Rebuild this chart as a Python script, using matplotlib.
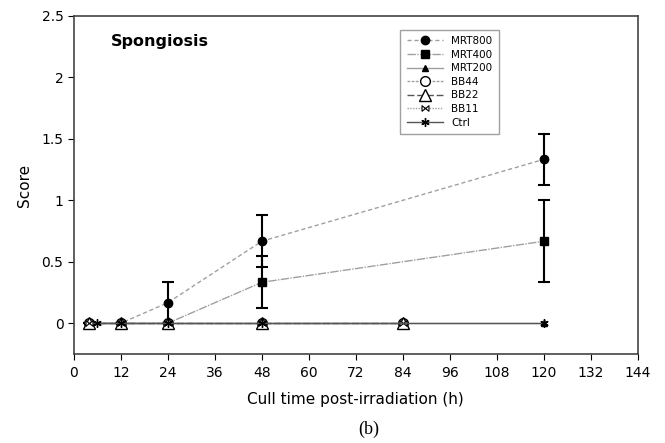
import matplotlib
matplotlib.use('Agg')
import matplotlib.pyplot as plt

# времена забора (ч) и баллы
mrt_times = [4, 12, 24, 48, 120]
mrt800 = [0, 0, 0.167, 0.667, 1.333]
mrt800_err = [0, 0, 0.167, 0.21, 0.21]
mrt400 = [0, 0, 0, 0.333, 0.667]
mrt400_err = [0, 0, 0, 0.21, 0.333]
mrt200 = [0, 0, 0, 0, 0]

bb_times = [4, 12, 24, 48, 84]
bb44 = [0, 0, 0, 0, 0]
bb22 = [0, 0, 0, 0, 0]
bb11 = [0, 0, 0, 0, 0]

ctrl_times = [6, 12, 24, 48, 120]
ctrl = [0, 0, 0, 0, 0]

x_ticks = list(range(0, 145, 12))
y_ticks = [0, 0.5, 1, 1.5, 2, 2.5]
y_labels = ['0', '0.5', '1', '1.5', '2', '2.5']

# маркер "бабочка" (⋈)
bowtie = [(-1, -0.8), (-1, 0.8), (1, -0.8), (1, 0.8), (-1, -0.8)]


# нулевые точки скрыты под открытыми маркерами
def nonzero(vals):
    return [i for i, v in enumerate(vals) if v > 0]


fig = plt.figure(figsize=(6.65, 4.43), dpi=100)
ax = fig.add_axes([0.111, 0.201, 0.848, 0.763])

lc = '#a0a0a0'
# усы погрешностей отдельно, чтобы не попадали в легенду
ax.errorbar(mrt_times, mrt800, yerr=mrt800_err, fmt='none', ecolor='black',
            elinewidth=1.5, capsize=4, capthick=1.5)
ax.errorbar(mrt_times, mrt400, yerr=mrt400_err, fmt='none', ecolor='black',
            elinewidth=1.5, capsize=4, capthick=1.5)

ax.plot(mrt_times, mrt800, color=lc, ls=(0, (3, 2)), lw=1, marker='o', ms=6,
        mfc='black', mec='black', markevery=nonzero(mrt800), label='MRT800')
ax.plot(mrt_times, mrt400, color=lc, ls=(0, (6, 1, 1, 1)), lw=1, marker='s', ms=6,
        mfc='black', mec='black', markevery=nonzero(mrt400), label='MRT400')
ax.plot(mrt_times, mrt200, color=lc, ls='-', lw=1, marker='^', ms=5,
        mfc='black', mec='black', label='MRT200')
ax.plot(bb_times, bb44, color=lc, ls=(0, (2, 1)), lw=1, marker='o', ms=7,
        mfc='white', mec='black', label='BB44')
ax.plot(bb_times, bb22, color='#555555', ls=(0, (5, 2)), lw=1, marker='^', ms=8,
        mfc='white', mec='black', label='BB22')
ax.plot(bb_times, bb11, color=lc, ls=(0, (1, 1)), lw=1, marker=bowtie, ms=5,
        mfc='white', mec='black', mew=0.8, label='BB11')
ax.plot(ctrl_times, ctrl, color='#555555', ls='-', lw=1, marker=(6, 2, 0), ms=6,
        mfc='black', mec='black', label='Ctrl')

ax.set_xlim(0, 144)
ax.set_ylim(-0.25, 2.5)
ax.set_xticks(x_ticks)
ax.set_yticks(y_ticks)
ax.set_yticklabels(y_labels)
ax.tick_params(axis='x', direction='out', length=4, pad=5, labelsize=10)
ax.tick_params(axis='y', direction='out', length=4, labelsize=10)
for s in ax.spines.values():
    s.set_linewidth(1.2)
    s.set_color('#444444')

ax.set_xlabel('Cull time post-irradiation (h)', fontsize=11, labelpad=8)
ax.set_ylabel('Score', fontsize=11, labelpad=7)
ax.text(0.065, 0.91, 'Spongiosis', transform=ax.transAxes, fontsize=11.5,
        fontweight='bold')

leg = ax.legend(loc='upper left', bbox_to_anchor=(0.57, 0.975), fontsize=7.5,
                frameon=True, fancybox=False, edgecolor='#888888',
                handlelength=3.5, labelspacing=0.35, borderpad=0.6)

fig.text(0.555, 0.02, '(b)', family='Liberation Serif', fontsize=13, ha='center')

fig.savefig('out.png', dpi=100)
